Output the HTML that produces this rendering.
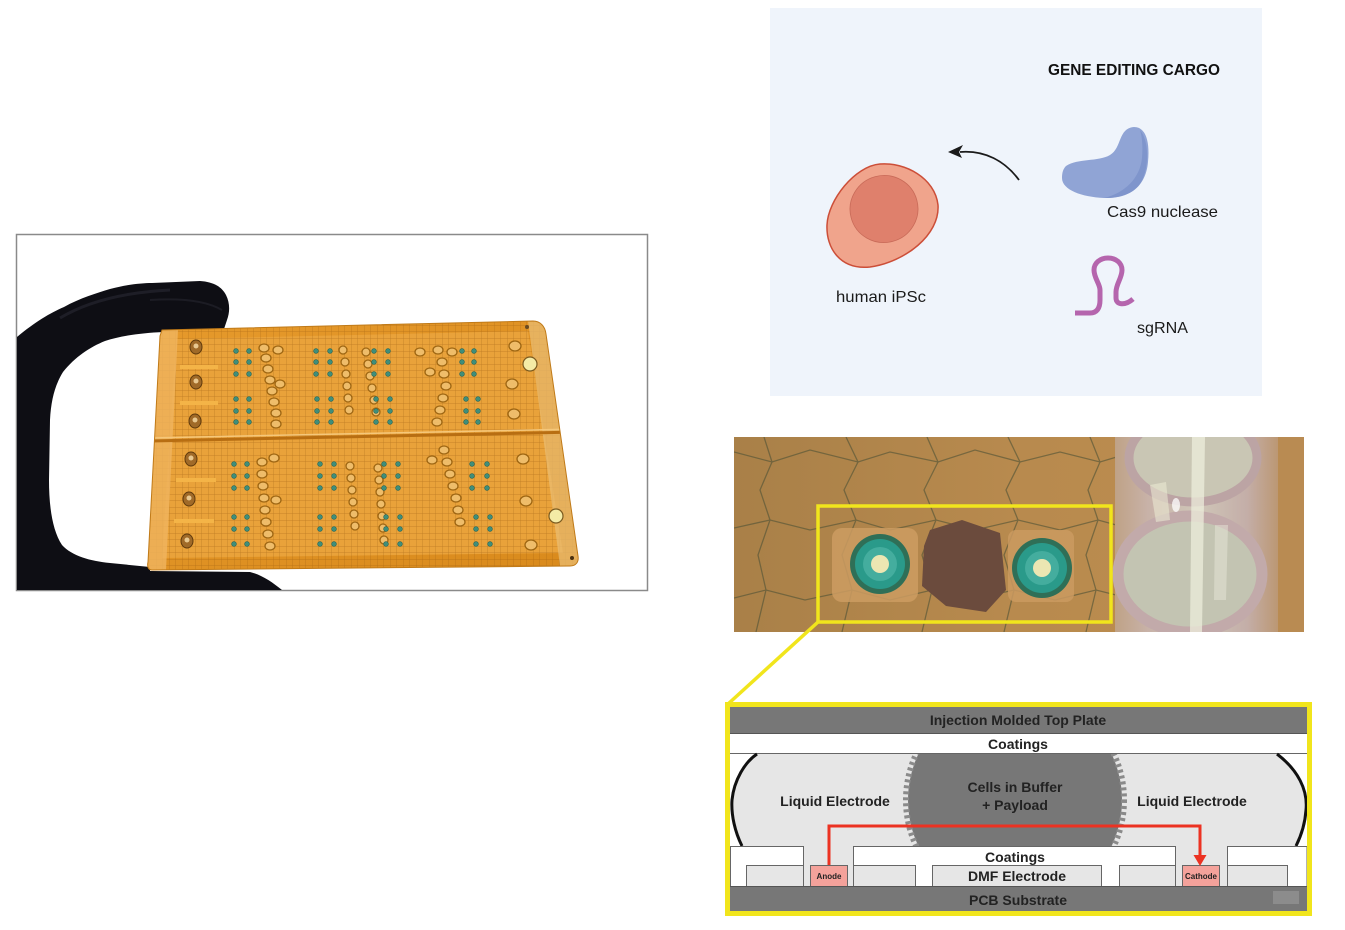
<!DOCTYPE html>
<html>
<head>
<meta charset="utf-8">
<style>
  html,body{margin:0;padding:0;background:#ffffff;}
  svg{display:block;}
  .lbl{font-family:"Liberation Sans",sans-serif;}
</style>
</head>
<body>
<svg width="1345" height="930" viewBox="0 0 1345 930" xmlns="http://www.w3.org/2000/svg">
  <defs>
    <pattern id="grid" width="6.5" height="6.5" patternUnits="userSpaceOnUse">
      <path d="M0,0 H6.5 M0,0 V6.5" stroke="#94560e" stroke-width="0.7" fill="none"/>
    </pattern>
    <clipPath id="boardClip">
      <path d="M162,330 L533,321 C540,321 545,326 546,334 L578,556 C579,562 576,566 570,566 L152,570 C148,570 147,566 148,562 L160,336 Z"/>
    </clipPath>
    <clipPath id="photoClip">
      <rect x="734" y="437" width="570" height="195"/>
    </clipPath>
    <clipPath id="midClip">
      <rect x="730" y="754" width="577" height="92"/>
    </clipPath>
    <linearGradient id="boardGrad" x1="0" y1="0" x2="1" y2="1">
      <stop offset="0" stop-color="#e69a2c"/>
      <stop offset="1" stop-color="#d98a1c"/>
    </linearGradient>
    <linearGradient id="photoGrad" x1="0" y1="0" x2="1" y2="0">
      <stop offset="0" stop-color="#a98048"/>
      <stop offset="0.5" stop-color="#b88a4e"/>
      <stop offset="1" stop-color="#bd8e50"/>
    </linearGradient>
    <linearGradient id="tubeGrad" x1="0" y1="0" x2="1" y2="0">
      <stop offset="0" stop-color="#bfa286"/>
      <stop offset="0.2" stop-color="#c8b2a8"/>
      <stop offset="0.5" stop-color="#cfc6b8"/>
      <stop offset="0.8" stop-color="#c4aea8"/>
      <stop offset="1" stop-color="#bb9670"/>
    </linearGradient>
  </defs>

  <!-- ============ LEFT PHOTO ============ -->
  <rect x="16.5" y="234.5" width="631" height="356" fill="#ffffff" stroke="#8a8a8a" stroke-width="1.5"/>
  <!-- glove -->
  <path d="M17,337 C35,322 50,313 64,307 C80,298 97,293 110,289 C125,285 140,283 152,283 L200,281 C214,282 222,287 226,295 C230,303 230,312 227,320 L224,329 L164,332 C140,333 120,336 105,341 C90,347 75,357 63,372 C55,385 51,400 50,420 L49,480 C49,505 52,530 62,545 C72,556 90,561 110,563 L150,567 L150,571 L250,572 C262,575 272,582 282,590 L17,590 Z" fill="#0e0e14"/>
  <path d="M60,318 C90,300 130,292 170,290" stroke="#2a2a34" stroke-width="3" fill="none" opacity="0.6"/>
  <path d="M150,300 C180,298 205,300 222,310" stroke="#2a2a34" stroke-width="2" fill="none" opacity="0.5"/>

  <!-- board -->
  <g clip-path="url(#boardClip)">
    <rect x="140" y="315" width="445" height="260" fill="url(#boardGrad)"/>
    <path d="M176,339 L528,331 L563,553 L162,558 Z" fill="#e9a23a"/>
    <rect x="140" y="315" width="445" height="260" fill="url(#grid)" opacity="0.55"/>
    <!-- left rim transparent band -->
    <path d="M160,330 L178,330 L166,570 L148,570 Z" fill="#f0b560" opacity="0.8"/>
    <!-- right rim transparent band -->
    <path d="M528,321 L546,321 L580,566 L560,566 Z" fill="#eabc72" opacity="0.75"/>
    <!-- seam -->
    <path d="M148,441 L580,432" stroke="#b86e12" stroke-width="3"/>
    <path d="M148,438 L580,429" stroke="#f5c77a" stroke-width="1.5"/>
    <!-- tab strips -->
    <g fill="#f4b447">
      <rect x="180" y="365" width="38" height="4"/>
      <rect x="180" y="401" width="38" height="4"/>
      <rect x="176" y="478" width="40" height="4"/>
      <rect x="174" y="519" width="40" height="4"/>
    </g>
    <!-- ports left -->
    <g fill="#a06a28" stroke="#603a0c" stroke-width="1">
      <ellipse cx="196" cy="347" rx="6" ry="7"/>
      <ellipse cx="196" cy="382" rx="6" ry="7"/>
      <ellipse cx="195" cy="421" rx="6" ry="7"/>
      <ellipse cx="191" cy="459" rx="6" ry="7"/>
      <ellipse cx="189" cy="499" rx="6" ry="7"/>
      <ellipse cx="187" cy="541" rx="6" ry="7"/>
    </g>
    <g fill="#e8c890">
      <circle cx="196" cy="346" r="2.5"/><circle cx="196" cy="381" r="2.5"/><circle cx="195" cy="420" r="2.5"/>
      <circle cx="191" cy="458" r="2.5"/><circle cx="189" cy="498" r="2.5"/><circle cx="187" cy="540" r="2.5"/>
    </g>
    <!-- bubble chains -->
    <g fill="#f0c070" stroke="#96600f" stroke-width="1.3" opacity="0.9">
      <ellipse cx="264" cy="348" rx="5" ry="4"/><ellipse cx="266" cy="358" rx="5" ry="4"/><ellipse cx="268" cy="369" rx="5" ry="4"/><ellipse cx="270" cy="380" rx="5" ry="4"/><ellipse cx="272" cy="391" rx="5" ry="4"/><ellipse cx="274" cy="402" rx="5" ry="4"/><ellipse cx="276" cy="413" rx="5" ry="4"/><ellipse cx="276" cy="424" rx="5" ry="4"/>
      <ellipse cx="278" cy="350" rx="5" ry="4"/><ellipse cx="280" cy="384" rx="5" ry="4"/>
      <ellipse cx="343" cy="350" rx="4" ry="4"/><ellipse cx="345" cy="362" rx="4" ry="4"/><ellipse cx="346" cy="374" rx="4" ry="4"/><ellipse cx="347" cy="386" rx="4" ry="4"/><ellipse cx="348" cy="398" rx="4" ry="4"/><ellipse cx="349" cy="410" rx="4" ry="4"/>
      <ellipse cx="366" cy="352" rx="4" ry="4"/><ellipse cx="368" cy="364" rx="4" ry="4"/><ellipse cx="370" cy="376" rx="4" ry="4"/><ellipse cx="372" cy="388" rx="4" ry="4"/><ellipse cx="374" cy="400" rx="4" ry="4"/><ellipse cx="376" cy="412" rx="4" ry="4"/>
      <ellipse cx="438" cy="350" rx="5" ry="4"/><ellipse cx="442" cy="362" rx="5" ry="4"/><ellipse cx="444" cy="374" rx="5" ry="4"/><ellipse cx="446" cy="386" rx="5" ry="4"/><ellipse cx="443" cy="398" rx="5" ry="4"/><ellipse cx="440" cy="410" rx="5" ry="4"/><ellipse cx="437" cy="422" rx="5" ry="4"/>
      <ellipse cx="430" cy="372" rx="5" ry="4"/><ellipse cx="452" cy="352" rx="5" ry="4"/>
      <ellipse cx="262" cy="462" rx="5" ry="4"/><ellipse cx="262" cy="474" rx="5" ry="4"/><ellipse cx="263" cy="486" rx="5" ry="4"/><ellipse cx="264" cy="498" rx="5" ry="4"/><ellipse cx="265" cy="510" rx="5" ry="4"/><ellipse cx="266" cy="522" rx="5" ry="4"/><ellipse cx="268" cy="534" rx="5" ry="4"/><ellipse cx="270" cy="546" rx="5" ry="4"/>
      <ellipse cx="274" cy="458" rx="5" ry="4"/><ellipse cx="276" cy="500" rx="5" ry="4"/>
      <ellipse cx="350" cy="466" rx="4" ry="4"/><ellipse cx="351" cy="478" rx="4" ry="4"/><ellipse cx="352" cy="490" rx="4" ry="4"/><ellipse cx="353" cy="502" rx="4" ry="4"/><ellipse cx="354" cy="514" rx="4" ry="4"/><ellipse cx="355" cy="526" rx="4" ry="4"/>
      <ellipse cx="378" cy="468" rx="4" ry="4"/><ellipse cx="379" cy="480" rx="4" ry="4"/><ellipse cx="380" cy="492" rx="4" ry="4"/><ellipse cx="381" cy="504" rx="4" ry="4"/><ellipse cx="382" cy="516" rx="4" ry="4"/><ellipse cx="383" cy="528" rx="4" ry="4"/><ellipse cx="384" cy="540" rx="4" ry="4"/>
      <ellipse cx="444" cy="450" rx="5" ry="4"/><ellipse cx="447" cy="462" rx="5" ry="4"/><ellipse cx="450" cy="474" rx="5" ry="4"/><ellipse cx="453" cy="486" rx="5" ry="4"/><ellipse cx="456" cy="498" rx="5" ry="4"/><ellipse cx="458" cy="510" rx="5" ry="4"/><ellipse cx="460" cy="522" rx="5" ry="4"/>
      <ellipse cx="515" cy="346" rx="6" ry="5"/><ellipse cx="512" cy="384" rx="6" ry="5"/><ellipse cx="514" cy="414" rx="6" ry="5"/>
      <ellipse cx="523" cy="459" rx="6" ry="5"/><ellipse cx="526" cy="501" rx="6" ry="5"/><ellipse cx="531" cy="545" rx="6" ry="5"/>
      <ellipse cx="420" cy="352" rx="5" ry="4"/><ellipse cx="432" cy="460" rx="5" ry="4"/>
    </g>
    <!-- green dots -->
    <g fill="#3f8e7a" stroke="#2a6656" stroke-width="0.6">
      <circle cx="236" cy="351" r="2.4"/><circle cx="249" cy="351" r="2.4"/><circle cx="236" cy="362" r="2.4"/><circle cx="249" cy="362" r="2.4"/><circle cx="236" cy="374" r="2.4"/><circle cx="249" cy="374" r="2.4"/>
      <circle cx="236" cy="399" r="2.4"/><circle cx="249" cy="399" r="2.4"/><circle cx="236" cy="411" r="2.4"/><circle cx="249" cy="411" r="2.4"/><circle cx="236" cy="422" r="2.4"/><circle cx="249" cy="422" r="2.4"/>
      <circle cx="316" cy="351" r="2.4"/><circle cx="330" cy="351" r="2.4"/><circle cx="316" cy="362" r="2.4"/><circle cx="330" cy="362" r="2.4"/><circle cx="316" cy="374" r="2.4"/><circle cx="330" cy="374" r="2.4"/>
      <circle cx="317" cy="399" r="2.4"/><circle cx="331" cy="399" r="2.4"/><circle cx="317" cy="411" r="2.4"/><circle cx="331" cy="411" r="2.4"/><circle cx="317" cy="422" r="2.4"/><circle cx="331" cy="422" r="2.4"/>
      <circle cx="374" cy="351" r="2.4"/><circle cx="388" cy="351" r="2.4"/><circle cx="374" cy="362" r="2.4"/><circle cx="388" cy="362" r="2.4"/><circle cx="374" cy="374" r="2.4"/><circle cx="388" cy="374" r="2.4"/>
      <circle cx="376" cy="399" r="2.4"/><circle cx="390" cy="399" r="2.4"/><circle cx="376" cy="411" r="2.4"/><circle cx="390" cy="411" r="2.4"/><circle cx="376" cy="422" r="2.4"/><circle cx="390" cy="422" r="2.4"/>
      <circle cx="462" cy="351" r="2.4"/><circle cx="474" cy="351" r="2.4"/><circle cx="462" cy="362" r="2.4"/><circle cx="474" cy="362" r="2.4"/><circle cx="462" cy="374" r="2.4"/><circle cx="474" cy="374" r="2.4"/>
      <circle cx="466" cy="399" r="2.4"/><circle cx="478" cy="399" r="2.4"/><circle cx="466" cy="411" r="2.4"/><circle cx="478" cy="411" r="2.4"/><circle cx="466" cy="422" r="2.4"/><circle cx="478" cy="422" r="2.4"/>
      <circle cx="234" cy="464" r="2.4"/><circle cx="247" cy="464" r="2.4"/><circle cx="234" cy="476" r="2.4"/><circle cx="247" cy="476" r="2.4"/><circle cx="234" cy="488" r="2.4"/><circle cx="247" cy="488" r="2.4"/>
      <circle cx="234" cy="517" r="2.4"/><circle cx="247" cy="517" r="2.4"/><circle cx="234" cy="529" r="2.4"/><circle cx="247" cy="529" r="2.4"/><circle cx="234" cy="544" r="2.4"/><circle cx="247" cy="544" r="2.4"/>
      <circle cx="320" cy="464" r="2.4"/><circle cx="334" cy="464" r="2.4"/><circle cx="320" cy="476" r="2.4"/><circle cx="334" cy="476" r="2.4"/><circle cx="320" cy="488" r="2.4"/><circle cx="334" cy="488" r="2.4"/>
      <circle cx="320" cy="517" r="2.4"/><circle cx="334" cy="517" r="2.4"/><circle cx="320" cy="529" r="2.4"/><circle cx="334" cy="529" r="2.4"/><circle cx="320" cy="544" r="2.4"/><circle cx="334" cy="544" r="2.4"/>
      <circle cx="384" cy="464" r="2.4"/><circle cx="398" cy="464" r="2.4"/><circle cx="384" cy="476" r="2.4"/><circle cx="398" cy="476" r="2.4"/><circle cx="384" cy="488" r="2.4"/><circle cx="398" cy="488" r="2.4"/>
      <circle cx="386" cy="517" r="2.4"/><circle cx="400" cy="517" r="2.4"/><circle cx="386" cy="529" r="2.4"/><circle cx="400" cy="529" r="2.4"/><circle cx="386" cy="544" r="2.4"/><circle cx="400" cy="544" r="2.4"/>
      <circle cx="472" cy="464" r="2.4"/><circle cx="487" cy="464" r="2.4"/><circle cx="472" cy="476" r="2.4"/><circle cx="487" cy="476" r="2.4"/><circle cx="472" cy="488" r="2.4"/><circle cx="487" cy="488" r="2.4"/>
      <circle cx="476" cy="517" r="2.4"/><circle cx="490" cy="517" r="2.4"/><circle cx="476" cy="529" r="2.4"/><circle cx="490" cy="529" r="2.4"/><circle cx="476" cy="544" r="2.4"/><circle cx="490" cy="544" r="2.4"/>
    </g>
    <!-- yellow circles -->
    <circle cx="530" cy="364" r="7" fill="#f4eba6" stroke="#7a5a20" stroke-width="1.2"/>
    <circle cx="556" cy="516" r="7" fill="#f4eba6" stroke="#7a5a20" stroke-width="1.2"/>
    <circle cx="572" cy="558" r="2" fill="#4a3010"/>
    <circle cx="527" cy="327" r="2" fill="#6a4a20"/>
  </g>
  <path d="M162,330 L533,321 C540,321 545,326 546,334 L578,556 C579,562 576,566 570,566 L152,570 C148,570 147,566 148,562 L160,336 Z" fill="none" stroke="#c07a18" stroke-width="1"/>

  <!-- ============ TOP-RIGHT PANEL ============ -->
  <rect x="770" y="8" width="492" height="388" fill="#eff4fb"/>
  <text x="1048" y="75" class="lbl" font-size="16" font-weight="bold" fill="#111" textLength="172" lengthAdjust="spacingAndGlyphs">GENE EDITING CARGO</text>
  <!-- cell -->
  <path d="M880,164 C905,162 935,178 938,205 C940,235 905,262 870,267 C840,270 826,248 827,225 C828,200 855,166 880,164 Z" fill="#f0a48c" stroke="#cc4e38" stroke-width="1.5"/>
  <ellipse cx="884" cy="209" rx="34" ry="33.5" transform="rotate(-15 884 209)" fill="#df806c" stroke="#c86a58" stroke-width="0.8"/>
  <text x="836" y="302" class="lbl" font-size="16" fill="#1a1a1a" textLength="90" lengthAdjust="spacingAndGlyphs">human iPSc</text>
  <!-- arrow -->
  <path d="M1019,180 C1005,161 985,150 960,152" stroke="#1a1a1a" stroke-width="1.8" fill="none"/>
  <path d="M948,152 L963,145 L959,152 L962,158 Z" fill="#1a1a1a"/>
  <!-- cas9 -->
  <path d="M1066,166 C1078,158 1098,162 1110,155 C1122,148 1118,128 1134,127 C1146,127 1150,142 1148,162 C1146,186 1130,199 1104,198 C1082,197 1062,190 1062,178 C1062,173 1063,169 1066,166 Z" fill="#90a4d5"/>
  <path d="M1140,130 C1150,142 1149,170 1140,184 C1132,195 1118,198 1104,198 C1125,193 1140,178 1142,158 C1143,146 1142,136 1140,130 Z" fill="#7f95cc"/>
  <text x="1107" y="217" class="lbl" font-size="16" fill="#1a1a1a" textLength="111" lengthAdjust="spacingAndGlyphs">Cas9 nuclease</text>
  <!-- sgRNA -->
  <path d="M1075,313 L1090,313 C1097,313 1100,308 1100,300 L1100,290 C1100,284 1094,278 1094,270 C1094,263 1100,258 1108,258 C1116,258 1122,263 1122,270 C1122,278 1116,284 1116,292 L1116,298 C1116,305 1125,306 1133,299" stroke="#b565ad" stroke-width="5" fill="none" stroke-linecap="butt" stroke-linejoin="round"/>
  <text x="1137" y="333" class="lbl" font-size="16" fill="#1a1a1a" textLength="51" lengthAdjust="spacingAndGlyphs">sgRNA</text>

  <!-- ============ MIDDLE PHOTO ============ -->
  <g clip-path="url(#photoClip)">
    <rect x="734" y="437" width="570" height="195" fill="url(#photoGrad)"/>
    <!-- circuit zigzag lines -->
    <g stroke="#4e5236" stroke-width="1.3" fill="none" opacity="0.6">
      <polyline points="764,437 772,462 760,490 770,520 758,555 766,590 756,632"/>
      <polyline points="846,437 858,462 844,490 856,520 842,555 852,590 842,632"/>
      <polyline points="927,437 938,462 924,490 936,520 922,555 932,590 922,632"/>
      <polyline points="1008,437 1020,462 1006,490 1018,520 1004,555 1014,590 1004,632"/>
      <polyline points="1090,437 1100,462 1088,490 1098,520 1086,555 1096,590 1086,632"/>
      <polyline points="734,452 772,462 810,450 858,462 890,452 938,462 975,450 1020,462 1060,452 1100,462 1120,456"/>
      <polyline points="734,528 770,520 810,530 856,520 890,530 936,520 975,530 1018,520 1060,530 1098,520 1120,526"/>
      <polyline points="734,598 766,590 805,600 852,590 890,600 932,590 970,600 1014,590 1055,600 1096,590 1120,596"/>
    </g>
    <!-- pads -->
    <rect x="832" y="528" width="86" height="74" rx="10" fill="#cc9c62" opacity="0.85"/>
    <rect x="1008" y="530" width="66" height="72" rx="8" fill="#ca9a60" opacity="0.85"/>
    <!-- dark droplet -->
    <path d="M930,530 L962,520 L1000,533 L1006,590 L986,612 L946,606 L922,586 L924,546 Z" fill="#6b4b3d"/>
    <!-- left ring -->
    <circle cx="880" cy="564" r="30" fill="#2f6f57"/>
    <circle cx="880" cy="564" r="25" fill="#2a9a8a"/>
    <circle cx="880" cy="564" r="17" fill="#44ad9e"/>
    <circle cx="880" cy="564" r="9" fill="#ece6b2"/>
    <!-- right ring -->
    <circle cx="1042" cy="568" r="30" fill="#2f6f57"/>
    <circle cx="1042" cy="568" r="25" fill="#2a9a8a"/>
    <circle cx="1042" cy="568" r="17" fill="#44ad9e"/>
    <circle cx="1042" cy="568" r="9" fill="#ece6b2"/>
    <!-- tubes -->
    <rect x="1115" y="437" width="165" height="195" fill="url(#tubeGrad)"/>
    <rect x="1278" y="437" width="26" height="195" fill="#b98b52"/>
    <ellipse cx="1193" cy="458" rx="64" ry="44" fill="#c9c6b4" stroke="#bca4a4" stroke-width="9"/>
    <ellipse cx="1190" cy="574" rx="72" ry="58" fill="#c3c4b2" stroke="#c2aaaa" stroke-width="11"/>
    <path d="M1192,437 L1205,437 L1202,632 L1190,632 Z" fill="#f0f1de" opacity="0.7"/>
    <path d="M1150,485 L1166,482 L1170,520 L1156,522 Z" fill="#ecedd6" opacity="0.55"/>
    <path d="M1215,525 L1228,525 L1226,600 L1214,600 Z" fill="#eaecdc" opacity="0.45"/>
    <ellipse cx="1176" cy="505" rx="4" ry="7" fill="#ffffff" opacity="0.75"/>
  </g>
  <!-- yellow box & connector -->
  <rect x="818" y="506" width="293" height="116" fill="none" stroke="#f1e51c" stroke-width="3.5"/>
  <line x1="818" y1="622" x2="728" y2="704" stroke="#f1e51c" stroke-width="3.5"/>

  <!-- ============ SCHEMATIC ============ -->
  <rect x="730" y="707" width="577" height="205" fill="#ffffff"/>
  <!-- top plate -->
  <rect x="730" y="707" width="577" height="26" fill="#777777"/>
  <line x1="730" y1="733.5" x2="1307" y2="733.5" stroke="#555" stroke-width="1"/>
  <line x1="730" y1="753.5" x2="1307" y2="753.5" stroke="#666" stroke-width="1"/>
  <!-- liquid electrode -->
  <path d="M757,754 L1277,754 C1298,770 1308,790 1306,810 C1305,825 1300,838 1296,846 L742,846 C735,832 731,815 732,800 C734,780 745,762 757,754 Z" fill="#e6e6e6"/>
  <!-- channels down to anode/cathode -->
  <rect x="804" y="846" width="49" height="40" fill="#e6e6e6"/>
  <rect x="1176" y="846" width="51" height="40" fill="#e6e6e6"/>
  <!-- black arcs -->
  <path d="M757,754 C745,762 734,780 732,800 C731,815 735,832 742,846" stroke="#111" stroke-width="3" fill="none"/>
  <path d="M1277,754 C1298,770 1308,790 1306,810 C1305,825 1300,838 1296,846" stroke="#111" stroke-width="3" fill="none"/>
  <!-- cells blob -->
  <g clip-path="url(#midClip)">
    <circle cx="1015" cy="800" r="107" fill="#777777"/>
    <circle cx="1015" cy="800" r="109" fill="none" stroke="#8a8a8a" stroke-width="6" stroke-dasharray="3 3"/>
  </g>
  <!-- bottom blocks -->
  <g stroke="#666" stroke-width="1">
    <rect x="730.5" y="846.5" width="73" height="40" fill="#ffffff"/>
    <rect x="853.5" y="846.5" width="322" height="40" fill="#ffffff"/>
    <rect x="1227.5" y="846.5" width="79.5" height="40" fill="#ffffff"/>
    <rect x="746.5" y="865.5" width="57" height="21" fill="#e6e6e6"/>
    <rect x="853.5" y="865.5" width="62" height="21" fill="#e6e6e6"/>
    <rect x="932.5" y="865.5" width="169" height="21" fill="#e6e6e6"/>
    <rect x="1119.5" y="865.5" width="56" height="21" fill="#e6e6e6"/>
    <rect x="1227.5" y="865.5" width="60" height="21" fill="#e6e6e6"/>
    <rect x="810.5" y="865.5" width="37" height="21" fill="#f4a29b"/>
    <rect x="1182.5" y="865.5" width="37" height="21" fill="#f4a29b"/>
  </g>
  <!-- PCB -->
  <rect x="730" y="886" width="577" height="26" fill="#777777"/>
  <line x1="730" y1="886.5" x2="1307" y2="886.5" stroke="#555" stroke-width="1"/>
  <rect x="1273" y="891" width="26" height="13" fill="#8c8c8c"/>
  <!-- red current path -->
  <path d="M829,865 L829,826 L1200,826 L1200,857" stroke="#ec3222" stroke-width="3" fill="none"/>
  <path d="M1193.5,855 L1206.5,855 L1200,866 Z" fill="#ec3222"/>

  <!-- schematic labels -->
  <g class="lbl" font-weight="bold" fill="#222" text-anchor="middle">
    <text x="1018" y="725" font-size="14">Injection Molded Top Plate</text>
    <text x="1018" y="749" font-size="14">Coatings</text>
    <text x="835" y="806" font-size="14">Liquid Electrode</text>
    <text x="1192" y="806" font-size="14">Liquid Electrode</text>
    <text x="1015" y="792" font-size="14">Cells in Buffer</text>
    <text x="1015" y="810" font-size="14">+ Payload</text>
    <text x="1015" y="862" font-size="14">Coatings</text>
    <text x="1017" y="881" font-size="14">DMF Electrode</text>
    <text x="1018" y="905" font-size="14">PCB Substrate</text>
    <text x="829" y="879" font-size="8">Anode</text>
    <text x="1201" y="879" font-size="8">Cathode</text>
  </g>

  <!-- yellow frame -->
  <rect x="727.5" y="704.5" width="582" height="209" fill="none" stroke="#f1e51c" stroke-width="5"/>
</svg>
</body>
</html>
